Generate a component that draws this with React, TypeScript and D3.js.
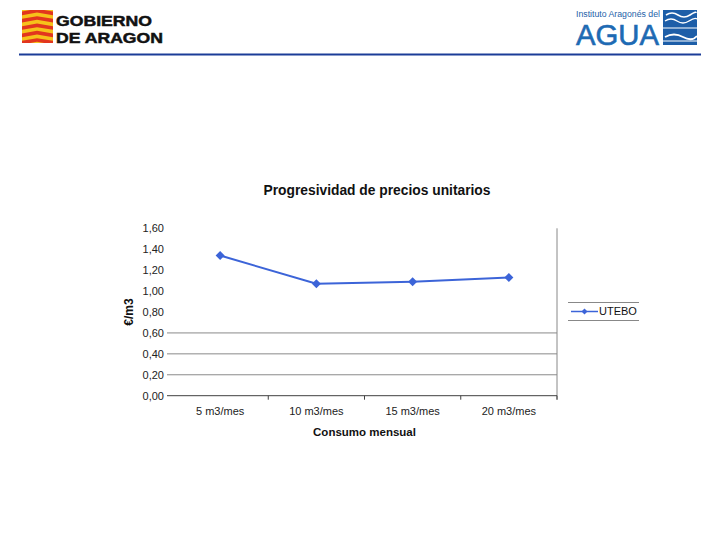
import React from 'react';
import * as d3 from 'd3';

const categories = ["5 m3/mes", "10 m3/mes", "15 m3/mes", "20 m3/mes"];
const uteboValues = [1.34, 1.07, 1.09, 1.13];
const yTickValues = [0, 0.2, 0.4, 0.6, 0.8, 1.0, 1.2, 1.4, 1.6];
const visibleGridValues = [0.2, 0.4, 0.6];
const seriesName = "UTEBO";
const chartTitle = "Progresividad de precios unitarios";
const xTitle = "Consumo mensual";
const yTitle = "€/m3";

const FONT = "'Liberation Sans', Arial, sans-serif";
const BLUE = "#3c64d8";

export default function App() {
  const left = 172, right = 557, top = 228.3, bottom = 395.7;
  const x = d3.scaleBand<string>().domain(categories).range([left, right]);
  const y = d3.scaleLinear().domain([0, 1.6]).range([bottom, top]);
  const fmt = (v: number) => d3.format(".2f")(v).replace(".", ",");
  const cx = (c: string) => (x(c) as number) + x.bandwidth() / 2;
  const line = d3.line<number>().x((_, i) => cx(categories[i])).y((d) => y(d));
  const diamond = (s: number) => `M0,${-s}L${s},0L0,${s}L${-s},0Z`;
  const boundaries = d3.range(categories.length + 1).map((i) => left + i * x.step());

  // flag stripes (logo)
  const stripes = d3.range(5).map((i) => {
    const h = 33 / 9;
    const y0 = 10 + i * 2 * h;
    const y1 = y0 + h;
    return `M22,${y0 + 1.5}L37,${y0 - 1.2}L53,${y0 + 1.5}L53,${y1 + 1.5}L37,${y1 - 1.2}L22,${y1 + 1.5}Z`;
  });

  const legendY = 311.5;

  return (
    <svg width={720} height={540} style={{ position: 'absolute', left: 0, top: 0, display: 'block', background: '#fff' }} fontFamily={FONT}>
      <rect x={0} y={0} width={720} height={540} fill="#fff" />
      {/* Header left logo */}
      <g>
        <clipPath id="flagclip"><rect x={22} y={10} width={31} height={33} /></clipPath>
        <rect x={22} y={10} width={31} height={33} fill="#f6c21a" />
        <g clipPath="url(#flagclip)">
          {stripes.map((p, i) => <path key={i} d={p} fill="#e2361e" />)}
        </g>
        <text x={56} y={25.5} fontSize={15} fontWeight="bold" fill="#111" stroke="#111" strokeWidth={0.5} textLength={96} lengthAdjust="spacingAndGlyphs">GOBIERNO</text>
        <text x={56} y={42.5} fontSize={15} fontWeight="bold" fill="#111" stroke="#111" strokeWidth={0.5} textLength={107} lengthAdjust="spacingAndGlyphs">DE ARAGON</text>
      </g>
      {/* Header right logo */}
      <g>
        <text x={576} y={17} fontSize={8.5} fill="#1e5fa8" textLength={84} lengthAdjust="spacingAndGlyphs">Instituto Aragonés del</text>
        <text x={576} y={45} fontSize={29} fill="#1e6ab3" stroke="#1e6ab3" strokeWidth={0.6} textLength={83} lengthAdjust="spacingAndGlyphs">AGUA</text>
        <rect x={663} y={10} width={34} height={35} fill="#1d5ea8" />
        <path d="M666,15 Q672,11 678,15 T690,15 T696,13" stroke="#fff" strokeWidth={1.6} fill="none" />
        <path d="M665,21 Q671,17 677,21 T689,21 T697,19" stroke="#fff" strokeWidth={1.4} fill="none" />
        <path d="M663,28 L697,28" stroke="#fff" strokeWidth={1.2} />
        <path d="M665,37 Q674,32 683,37 T697,36" stroke="#fff" strokeWidth={1.8} fill="none" />
        <path d="M663,41 L697,41" stroke="#fff" strokeWidth={1} />
      </g>
      <line x1={19} x2={701} y1={54.5} y2={54.5} stroke="#1b3c98" strokeWidth={2} />

      {/* Title */}
      <text x={377} y={195} textAnchor="middle" fontSize={13.8} fontWeight="bold" fill="#111">{chartTitle}</text>

      {/* Gridlines */}
      {visibleGridValues.map((v) => (
        <line key={v} x1={167} x2={right} y1={y(v)} y2={y(v)} stroke="#8a8a8a" strokeWidth={1} />
      ))}
      {/* Right plot border */}
      <line x1={right} x2={right} y1={top} y2={bottom + 4} stroke="#888" strokeWidth={1} />
      {/* X axis */}
      <line x1={167} x2={right} y1={y(0)} y2={y(0)} stroke="#404040" strokeWidth={1} />
      {boundaries.slice(1).map((b, i) => (
        <line key={i} x1={b} x2={b} y1={y(0)} y2={y(0) + 4} stroke="#404040" strokeWidth={1} />
      ))}

      {/* Y tick labels */}
      {yTickValues.map((v) => (
        <text key={v} x={164} y={y(v)} dy="0.35em" textAnchor="end" fontSize={11} fill="#222">{fmt(v)}</text>
      ))}
      {/* X tick labels */}
      {categories.map((c) => (
        <text key={c} x={cx(c)} y={415} textAnchor="middle" fontSize={11} fill="#222">{c}</text>
      ))}

      {/* Axis titles */}
      <text x={364.5} y={436} textAnchor="middle" fontSize={11.5} fontWeight="bold" fill="#111">{xTitle}</text>
      <text transform={`translate(133,312) rotate(-90)`} textAnchor="middle" fontSize={12} fontWeight="bold" fill="#111">{yTitle}</text>

      {/* Series */}
      <path d={line(uteboValues) as string} fill="none" stroke={BLUE} strokeWidth={2} />
      {uteboValues.map((v, i) => (
        <path key={i} d={diamond(4.5)} transform={`translate(${cx(categories[i])},${y(v)})`} fill={BLUE} />
      ))}

      {/* Legend */}
      <line x1={568} x2={639} y1={302.5} y2={302.5} stroke="#888" strokeWidth={1} />
      <line x1={568} x2={639} y1={320.5} y2={320.5} stroke="#888" strokeWidth={1} />
      <line x1={571} x2={598} y1={legendY} y2={legendY} stroke={BLUE} strokeWidth={1.5} />
      <path d={diamond(3)} transform={`translate(584.5,${legendY})`} fill={BLUE} />
      <text x={599} y={legendY} dy="0.35em" fontSize={11} fill="#111">{seriesName}</text>
    </svg>
  );
}
